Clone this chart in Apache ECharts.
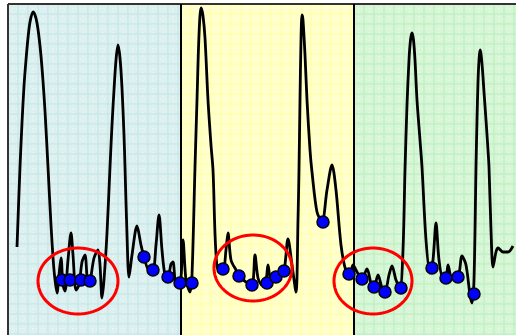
<!DOCTYPE html>
<html>
<head>
<meta charset="utf-8">
<script src="https://cdn.jsdelivr.net/npm/echarts@6/dist/echarts.min.js"></script>
<style>
  html, body { margin: 0; padding: 0; background: #fff; }
  #main { width: 516px; height: 335px; }
</style>
</head>
<body>
<div id="main"></div>
<script>
// curve (x, y in picture units, y downwards)
const curveX = [17, 20, 22, 24, 26, 28, 30, 33, 35, 37, 39, 41, 43, 45, 48, 51, 54, 57,
  59, 61, 63, 65, 68, 71, 73, 76, 79, 82, 85, 88, 90, 94, 98, 100, 102, 104,
  107, 110, 112, 114, 116, 118, 120, 122, 124, 125, 127, 129,
  132, 137, 141, 144, 149, 153, 156, 159, 162, 165, 168, 171, 173, 176, 180, 183, 186, 190,
  192, 195, 197, 199, 201, 203, 205, 208, 211, 213, 217,
  223, 226, 228, 231, 236, 240, 246, 252, 255, 258, 262, 266, 268, 271, 276, 280, 284, 288, 292, 296,
  298, 299, 300, 301, 302, 303, 305, 307, 310, 312, 317, 322, 327, 332, 336, 341, 346,
  350, 353, 357, 362, 367, 371, 374, 378, 382, 385, 389, 392, 396, 400, 403,
  405, 407, 409, 410.5, 412, 413.5, 415, 417, 420, 422, 426, 430,
  433, 436, 439, 443, 446, 448, 452, 458, 462, 466, 470, 472, 474,
  476, 477, 478, 479, 480, 481, 482.5, 484, 486, 488, 489, 491, 493, 496, 498, 503, 508, 513];
const curveY = [247, 167, 123, 86, 60, 38, 22, 12, 15, 23, 37, 56, 81, 111, 167, 225, 270, 293,
  275, 258, 285, 291, 260, 233, 255, 290, 285, 262, 255, 285, 282, 258, 250, 265, 298, 280,
  233, 167, 125, 90, 60, 45, 58, 88, 135, 167, 235, 277,
  255, 226, 245, 257, 270, 270, 245, 215, 250, 275, 277, 264, 262, 283, 283, 240, 280, 292,
  275, 167, 100, 35, 8, 16, 38, 100, 145, 170, 267,
  269, 250, 233, 260, 270, 277, 282, 285, 255, 278, 285, 280, 265, 280, 277, 275, 271, 239, 265, 292,
  220, 170, 100, 40, 15, 20, 55, 100, 150, 172, 212, 222, 190, 165, 190, 245, 271,
  273, 265, 272, 279, 269, 283, 287, 275, 288, 292, 275, 266, 280, 288, 250,
  170, 105, 60, 40, 33, 40, 60, 100, 140, 167, 240, 273,
  260, 223, 260, 278, 278, 265, 278, 277, 256, 265, 295, 303, 280,
  167, 120, 82, 60, 50, 54, 70, 92, 120, 150, 167, 230, 267, 252, 248, 252, 252, 246];

// blue points
const markerX = [62, 70, 81, 90, 144, 153, 168, 180, 192, 223, 239, 252, 267, 276, 284, 323,
  349, 362, 374, 385, 401, 432, 446, 458, 474];
const markerY = [280, 280, 280, 281, 257, 270, 277, 283, 283, 269, 276, 285, 283, 277, 271, 222,
  274, 279, 287, 292, 288, 268, 278, 277, 294];

// red rings: centre x, centre y, radius x, radius y
const ringCx = [78, 253, 373];
const ringCy = [281, 268, 281];
const ringRx = [40, 39, 39];
const ringRy = [33, 33, 33];

// three shaded bands: from x, to x, top y, bottom y
const bandFrom = [8, 181, 354];
const bandTo = [181, 354, 516];
const bandTop = [4, 4, 4];
const bandBottom = [335, 335, 335];

const bandFill = ['#dcf0f0', '#ffffcc', '#d6f6d6'];
const bandGrid = ['#c2e5e5', '#ffff9e', '#b8eebd'];
const GRID_STEP = 10;

const chart = echarts.init(document.getElementById('main'));

const curveData = curveX.map((x, i) => [x, curveY[i]]);
const markerData = markerX.map((x, i) => [x, markerY[i]]);
const ringData = ringCx.map((x, i) => [x, ringCy[i], ringRx[i], ringRy[i]]);
const bandData = bandFrom.map((x, i) => [x, bandTo[i], bandTop[i], bandBottom[i], i]);

// 背景带 + 网格
function renderBand(params, api) {
  const x0 = api.value(0), x1 = api.value(1), y0 = api.value(2), y1 = api.value(3);
  const k = api.value(4);
  const a = api.coord([x0, y0]);
  const b = api.coord([x1, y1]);
  const children = [{
    type: 'rect',
    shape: { x: a[0], y: a[1], width: b[0] - a[0], height: b[1] - a[1] },
    style: { fill: bandFill[k] }
  }];
  // faint white half-step lines
  for (let gx = x0 + GRID_STEP / 2; gx < x1; gx += GRID_STEP) {
    const p = api.coord([gx, y0]);
    children.push({ type: 'line', shape: { x1: p[0], y1: a[1], x2: p[0], y2: b[1] },
      style: { stroke: 'rgba(255,255,255,0.6)', lineWidth: 1, lineDash: [1, 3] } });
  }
  for (let gy = y0 + GRID_STEP / 2; gy < y1; gy += GRID_STEP) {
    const p = api.coord([x0, gy]);
    children.push({ type: 'line', shape: { x1: a[0], y1: p[1], x2: b[0], y2: p[1] },
      style: { stroke: 'rgba(255,255,255,0.6)', lineWidth: 1, lineDash: [1, 3] } });
  }
  for (let gx = x0 + GRID_STEP; gx < x1; gx += GRID_STEP) {
    const p = api.coord([gx, y0]);
    children.push({ type: 'line', shape: { x1: p[0], y1: a[1], x2: p[0], y2: b[1] },
      style: { stroke: bandGrid[k], lineWidth: 1 } });
  }
  for (let gy = y0 + GRID_STEP; gy < y1; gy += GRID_STEP) {
    const p = api.coord([x0, gy]);
    children.push({ type: 'line', shape: { x1: a[0], y1: p[1], x2: b[0], y2: p[1] },
      style: { stroke: bandGrid[k], lineWidth: 1 } });
  }
  // frame: top edge and left edge
  children.push({ type: 'line', shape: { x1: a[0], y1: a[1], x2: b[0], y2: a[1] },
    style: { stroke: '#333', lineWidth: 2 } });
  children.push({ type: 'line', shape: { x1: a[0], y1: a[1], x2: a[0], y2: b[1] },
    style: { stroke: k === 0 ? '#333' : '#000', lineWidth: 2 } });
  return { type: 'group', children };
}

// 红色椭圆
function renderRing(params, api) {
  const cx = api.value(0), cy = api.value(1), rx = api.value(2), ry = api.value(3);
  const points = [];
  for (let i = 0; i < 90; i++) {
    const t = i / 90 * Math.PI * 2;
    points.push(api.coord([cx + rx * Math.cos(t), cy + ry * Math.sin(t)]));
  }
  return {
    type: 'polygon',
    shape: { points },
    style: { fill: 'none', stroke: '#ff0000', lineWidth: 3 }
  };
}

const option = {
  animation: false,
  grid: { left: 0, right: 0, top: 0, bottom: 0 },
  xAxis: { type: 'value', min: 0, max: 516, show: false },
  yAxis: { type: 'value', min: 0, max: 335, inverse: true, show: false },
  series: [
    {
      type: 'custom',
      renderItem: renderBand,
      data: bandData,
      z: 0,
      silent: true
    },
    {
      type: 'line',
      data: curveData,
      smooth: 0.3,
      showSymbol: false,
      lineStyle: { color: '#000', width: 2.8 },
      z: 2
    },
    {
      type: 'custom',
      renderItem: renderRing,
      data: ringData,
      z: 3,
      silent: true
    },
    {
      type: 'scatter',
      data: markerData,
      symbolSize: 12,
      itemStyle: { color: '#0000ff', borderColor: '#000', borderWidth: 1.5, opacity: 1 },
      z: 4
    }
  ]
};

chart.setOption(option);
</script>
</body>
</html>
